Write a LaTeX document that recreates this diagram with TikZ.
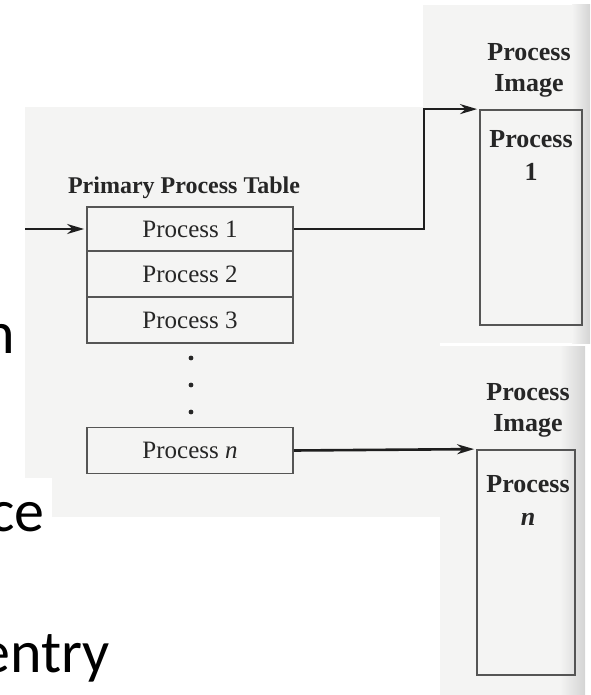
\documentclass[tikz,border=0pt]{standalone}
\usepackage{fontspec}
\setmainfont{Liberation Serif}
\newfontfamily\slidefont{Carlito}
\usetikzlibrary{arrows.meta}

\definecolor{scanbg}{HTML}{F4F4F3}
\definecolor{scanedge}{HTML}{D4D4D4}
\definecolor{ink}{HTML}{262626}
\definecolor{boxline}{HTML}{555555}
\definecolor{wire}{HTML}{1E1E1E}

\begin{document}
\begin{tikzpicture}[x=1pt,y=-1pt,
  panel/.style={fill=scanbg,draw=none},
  cell/.style={draw=boxline,line width=1.8pt,minimum width=206pt,inner sep=0pt,
    text=ink,font=\fontsize{25}{28}\selectfont},
  imagebox/.style={draw=boxline,line width=1.8pt,inner sep=0pt},
  label/.style={text=ink,inner sep=0pt,align=center},
  conn/.style={draw=wire,line width=2.6pt,
    -{Stealth[length=17pt,width=10pt]},shorten >=2pt},
  slide/.style={inner sep=0pt,anchor=base east,text=black,
    font=\slidefont\fontsize{60}{66}\selectfont}
]
\useasboundingbox (0,0) rectangle (590,695);

% scanned panels
\fill[panel] (25,107) rectangle (440,517);
\fill[panel] (423,5) rectangle (590,343);
\shade[left color=scanbg,right color=scanedge] (572,5) rectangle (590,343);
\fill[panel] (440,346) rectangle (585,695);
\shade[left color=scanbg,right color=scanedge] (560,346) rectangle (585,695);
\fill[white] (0,478) rectangle (52,517);

% slide text along the left edge
\node[slide] (w1) at (15,353) {n};
\node[slide] (w2) at (45,531) {ce};
\node[slide] (w3) at (110,672) {entry};

% primary process table
\node[label,anchor=base,font=\bfseries\fontsize{24}{28}\selectfont] (ttl) at (184,193) {Primary Process Table};
\node[cell,minimum height=44pt] (p1) at (190,229) {Process 1};
\node[cell,minimum height=46pt] (p2) at (190,274) {Process 2};
\node[cell,minimum height=46pt] (p3) at (190,320) {Process 3};
\fill[ink] (191,358) circle (2.4) (191,385) circle (2.4) (191,412) circle (2.4);
\node[cell,minimum height=46pt] (pn) at (190,450.5) {Process \textit{n}};

% process images
\node[imagebox,minimum width=102pt,minimum height=215pt] (im1) at (531,217.5) {};
\node[label,font=\bfseries\fontsize{26}{31}\selectfont] (h1) at (529,70) {Process\\Image};
\node[label,font=\bfseries\fontsize{26}{33}\selectfont] (t1) at (531,155) {Process\\1};

\node[imagebox,minimum width=98pt,minimum height=225pt] (imn) at (526,562.5) {};
\node[label,font=\bfseries\fontsize{26}{31}\selectfont] (hn) at (528,410) {Process\\Image};
\node[label,font=\bfseries\fontsize{26}{33}\selectfont] (tn) at (528,500) {Process\\\textit{n}};

% pointers
\coordinate (src) at (25,229);
\draw[conn] (src) -- (p1.west);
\draw[conn] (p1.east) -- ++(130,0) |- (im1.north west);
\draw[conn] (pn.east) -- (imn.north west);
\end{tikzpicture}
\end{document}
